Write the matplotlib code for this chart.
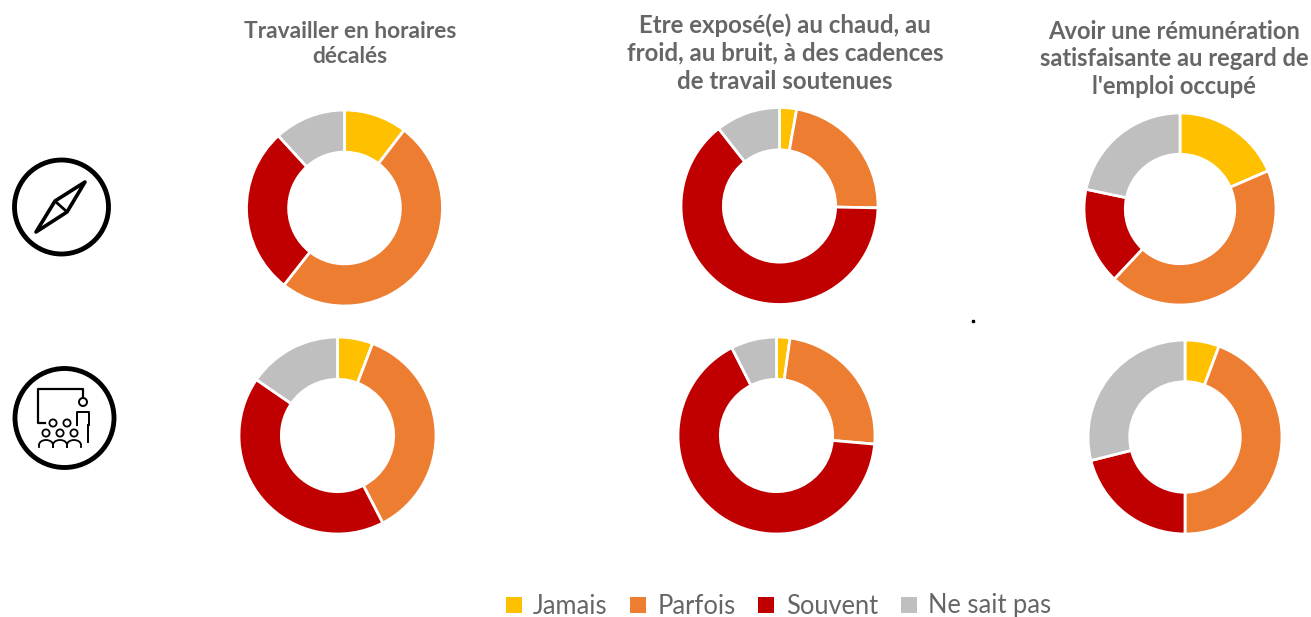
import matplotlib
matplotlib.use("Agg")
import matplotlib.pyplot as plt
from matplotlib.patches import Circle, Rectangle, Polygon, Arc

W, H = 1311, 617
categories = ["Jamais", "Parfois", "Souvent", "Ne sait pas"]
colors = ["#FFC000", "#ED7D31", "#C00000", "#BFBFBF"]
titles = ["Travailler en horaires\ndécalés",
          "Etre exposé(e) au chaud, au\nfroid, au bruit, à des cadences\nde travail soutenues",
          "Avoir une rémunération\nsatisfaisante au regard de\nl'emploi occupé"]
row1 = [[10.4, 50.2, 27.6, 11.8], [2.8, 22.5, 64.1, 10.6], [18.5, 43.5, 16.3, 21.7]]
row2 = [[5.8, 36.6, 42.2, 15.4], [2.2, 24.2, 66.1, 7.5], [5.7, 44.3, 21.1, 28.9]]
centers1 = [(344.5, 208, 98), (779.5, 206, 98.5), (1180, 209, 96)]
centers2 = [(337.5, 435.5, 98.5), (776.5, 435.5, 98.5), (1185, 437, 97)]
title_xy = [(350, 44), (785, 53), (1174, 59)]
title_sizes = [16.4, 17.3, 17.1]

fig = plt.figure(figsize=(W/100, H/100), dpi=100)
plt.rcParams['font.family'] = ['Lato', 'DejaVu Sans']
bg = fig.add_axes([0, 0, 1, 1])
bg.set_xlim(0, W); bg.set_ylim(H, 0); bg.axis('off')

def donut(vals, cx, cy, r):
    ax = fig.add_axes([(cx-r)/W, 1-(cy+r)/H, 2*r/W, 2*r/H])
    ax.pie(vals, colors=colors, startangle=90, counterclock=False, radius=1,
           wedgeprops=dict(width=0.43, edgecolor='white', linewidth=2))
    ax.set_xlim(-1, 1); ax.set_ylim(-1, 1); ax.set_aspect('equal')

for v, c in zip(row1, centers1):
    donut(v, *c)
for v, c in zip(row2, centers2):
    donut(v, *c)

for t, (x, y), fs in zip(titles, title_xy, title_sizes):
    bg.text(x, y, t, ha='center', va='center', fontsize=fs, fontweight='bold',
            color='#666666', linespacing=1.25)

# Icons
bg.add_patch(Circle((61.5, 207), 47, fill=False, ec='black', lw=3.5))
bg.add_patch(Polygon([(85, 182), (67, 212), (36, 232), (55, 201)], closed=True, fill=False,
                     ec='black', lw=2.6, joinstyle='round'))
bg.plot([56, 66], [202, 211], color='black', lw=2)
bg.add_patch(Circle((64.5, 418), 49.5, fill=False, ec='black', lw=3.5))
bg.plot([83, 83, 38, 38, 45], [397, 389, 389, 423, 423], color='black', lw=1.6)
bg.add_patch(Circle((83, 402), 4, fill=False, ec='black', lw=1.4))
bg.plot([77, 77, 89, 89], [425, 412, 412, 425], color='black', lw=1.4)
bg.plot([87.5, 87.5], [425, 442], color='black', lw=1.4)
for x, y in [(53, 423), (67, 423), (46, 433), (60, 433), (74, 433)]:
    bg.add_patch(Circle((x, y), 3.6, fill=False, ec='black', lw=1.3))
for x in [46, 60, 74]:
    bg.add_patch(Arc((x, 445), 14, 10, theta1=180, theta2=360, ec='black', lw=1.3))
    bg.plot([x-7, x-7], [445, 447], color='black', lw=1.3)
    bg.plot([x+7, x+7], [445, 447], color='black', lw=1.3)
bg.plot([973], [321], marker='s', ms=2, color='black')

# Legend
lx = [506, 630, 758, 901]
tx = [533, 658, 786, 928]
for c, x, t, name in zip(colors, lx, tx, categories):
    bg.add_patch(Rectangle((x, 597), 16, 16, color=c, lw=0))
    bg.text(t, 606, name, ha='left', va='center', fontsize=18.4, color='#666666')

fig.savefig("out.png", dpi=100)
